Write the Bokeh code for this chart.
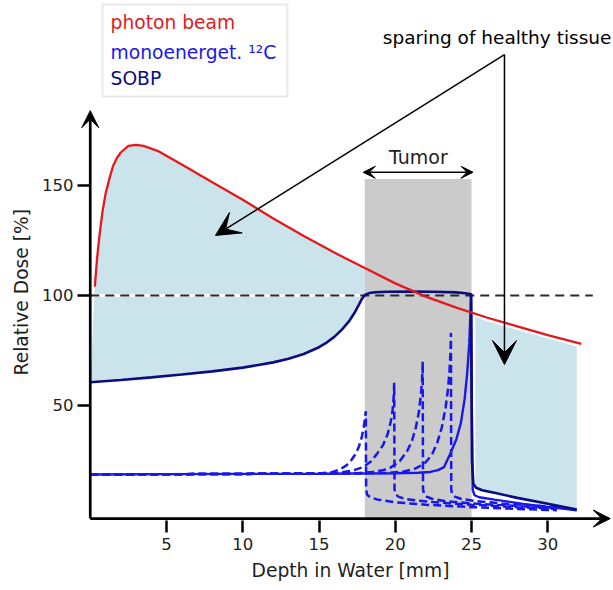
import math
from bokeh.plotting import figure
from bokeh.models import Range1d, FixedTicker, Label, Arrow, VeeHead, BoxAnnotation, Title
from bokeh.embed import file_html
from bokeh.resources import INLINE

# ---------------- data ----------------
photon_x = [0.3, 0.45, 0.6, 0.8, 1.0, 1.25, 1.5, 1.75, 2.0, 2.5, 3.0, 3.5, 4.5, 6.0, 8.0,
            10.0, 12.0, 14.0, 16.0, 18.0, 20.0, 22.0, 24.0, 26.0, 28.0, 30.0, 32.2]
photon_y = [104, 117, 127, 138, 146, 153, 159, 162.5, 165, 168, 168.5, 168, 165.5, 159.5, 151.5,
            143.5, 135, 127, 119.5, 112.5, 105.5, 99.5, 94.5, 90, 86, 82, 78]

sobp_x = [0, 2, 4, 6, 8, 10, 12, 13, 14, 15, 15.5, 16, 16.5, 17, 17.3, 17.6, 17.8, 18.0,
          18.3, 18.7, 19.5, 21, 22.5, 24, 24.6, 24.97, 25.03, 25.12, 25.3, 25.7, 26.5, 28, 30, 31.9]
sobp_y = [60.6, 61.6, 62.8, 64.1, 65.5, 67.2, 69.6, 71.2, 73.4, 76.5, 78.6, 81.2, 84.5, 88.6,
          91.8, 95.6, 98.3, 100.2, 101.1, 101.5, 101.7, 101.8, 101.7, 101.4, 101.0, 100.6,
          25, 14.5, 12.6, 11.5, 10.3, 8.0, 5.3, 2.7]

mono_x = [0, 5, 10, 15, 20, 21.5, 22.3, 22.8, 23.2, 23.6, 24.0, 24.3, 24.55, 24.72, 24.85,
          24.93, 24.97, 25.02, 25.08, 25.2, 25.5, 26.5, 28.4, 30, 31.9]
mono_y = [18.6, 18.8, 18.9, 19.0, 19.2, 19.4, 19.8, 20.6, 22.0, 28.0, 34.5, 42.0, 53.0, 65.0,
          78.0, 92.0, 101.0, 50, 11.5, 9.2, 8.3, 7.2, 5.3, 3.9, 2.4]

peak1_x = [0, 10, 15, 15.8, 16.4, 16.8, 17.1, 17.4, 17.6, 17.8, 17.93, 18.02, 18.07, 18.09,
           18.15, 18.35, 18.8, 20.0, 22.0, 25.0, 28.0, 30.6]
peak1_y = [18.6, 18.9, 19.1, 19.6, 21.0, 22.8, 25.0, 28.0, 31.0, 35.5, 40.0, 44.5, 47.4, 12.0,
           9.5, 8.3, 7.3, 6.0, 4.9, 3.8, 3.0, 2.4]

peak2_x = [0, 10, 15.5, 16.5, 17.3, 17.9, 18.4, 18.8, 19.2, 19.5, 19.7, 19.82, 19.9, 19.93,
           19.95, 20.0, 20.2, 20.6, 21.5, 23.0, 25.0, 28.0, 30.6]
peak2_y = [18.6, 18.9, 19.1, 19.6, 20.6, 22.0, 24.5, 28.0, 32.0, 37.0, 42.5, 47.5, 54.0, 60.3,
           12.0, 9.8, 8.6, 7.6, 6.7, 5.8, 4.9, 3.8, 3.0]

peak3_x = [0, 10, 17.5, 18.5, 19.2, 19.7, 20.3, 20.8, 21.1, 21.35, 21.55, 21.68, 21.76, 21.8,
           21.82, 21.88, 22.05, 22.4, 23.2, 25.0, 28.0, 30.6]
peak3_y = [18.6, 18.9, 19.2, 19.8, 20.6, 21.8, 24.8, 29.5, 34.0, 40.0, 47.0, 55.0, 62.0, 70.0,
           12.0, 9.8, 8.6, 7.6, 6.6, 5.5, 4.3, 3.4]

peak4_x = [0, 10, 19.5, 20.5, 21.3, 21.9, 22.4, 22.75, 23.05, 23.3, 23.45, 23.55, 23.62, 23.65,
           23.67, 23.72, 23.9, 24.3, 25.2, 27.0, 30.6]
peak4_y = [18.6, 18.9, 19.3, 19.9, 21.3, 23.5, 27.5, 33.0, 40.0, 49.0, 57.0, 65.0, 74.0, 83.0,
           12.0, 9.8, 8.6, 7.6, 6.6, 5.5, 3.8]

# spared healthy tissue behind the tumour (shaded region)
rear_x = [25.25, 26.0, 28.0, 30.0, 31.9]
rear_top = [90.3, 88.3, 84.3, 80.4, 76.8]
rear_bottom = [12.3, 10.3, 8.0, 5.3, 2.7]

tumor_start, tumor_end, tumor_top = 18.0, 25.0, 153
reference_dose = 100

x_ticks = [5, 10, 15, 20, 25, 30]
y_ticks = [50, 100, 150]

legend_labels = ["photon beam", "monoenerget. \u00b9\u00b2C", "SOBP"]

# ---------------- style ----------------
RED = "#e3191d"
BLUE = "#1818ec"
NAVY = "#0c0c82"
FILL = "#cbe4eb"
GRAY = "#cbcbcb"
FONT = "DejaVu Sans"
TXT = "#1e1e1e"

p = figure(width=613, height=590, output_backend="svg", toolbar_location=None,
           x_range=Range1d(-0.836, 34.31), y_range=Range1d(-7.73, 234.09),
           min_border_left=77, min_border_right=0, min_border_top=0, min_border_bottom=58)
p.grid.visible = False
p.outline_line_color = None
p.background_fill_color = "white"
p.border_fill_color = "white"

for ax in (p.xaxis[0], p.yaxis[0]):
    ax.axis_line_color = None
    ax.major_tick_line_color = "black"
    ax.major_tick_line_width = 2.5
    ax.major_tick_in = 12
    ax.major_tick_out = 0
    ax.minor_tick_line_color = None
    ax.major_label_text_font = FONT
    ax.major_label_text_font_size = "16.5px"
    ax.major_label_text_color = TXT
p.xaxis[0].ticker = FixedTicker(ticks=x_ticks)
p.yaxis[0].ticker = FixedTicker(ticks=y_ticks)
p.xaxis[0].major_label_standoff = 5
p.yaxis[0].major_label_standoff = 4

# axis titles
p.add_layout(Title(text="Relative Dose [%]", align="left", offset=157, vertical_align="top",
                   text_font=FONT, text_font_size="18.7px", text_font_style="normal",
                   text_color=TXT, standoff=11), "left")
p.add_layout(Title(text="Depth in Water [mm]", align="left", offset=174, vertical_align="top",
                   text_font=FONT, text_font_size="18.7px", text_font_style="normal",
                   text_color=TXT, standoff=14), "below")

# shaded region in front of the tumour: between photon curve and SOBP
front_x = [x for x in photon_x if x <= tumor_start] + [x for x in sobp_x if x <= tumor_start][::-1]
front_y = [y for x, y in zip(photon_x, photon_y) if x <= tumor_start] + \
          [y for x, y in zip(sobp_x, sobp_y) if x <= tumor_start][::-1]
p.patch(front_x, front_y, fill_color=FILL, line_color=None)
p.varea(x=rear_x, y1=rear_bottom, y2=rear_top, fill_color=FILL)

# tumour region
p.quad(left=[tumor_start], right=[tumor_end], bottom=[-1.5], top=[tumor_top],
       fill_color=GRAY, line_color=None)

# reference dose line
p.line([0, tumor_start], [reference_dose, reference_dose], line_color="white", line_width=2.5)
p.line([0, 32.95], [reference_dose, reference_dose], line_color="#2a2a2a", line_width=1.8,
       line_dash="9 6")

for px_, py_ in ((peak1_x, peak1_y), (peak2_x, peak2_y), (peak3_x, peak3_y), (peak4_x, peak4_y)):
    p.line(px_, py_, line_color=BLUE, line_width=2.5, line_dash="8 4")

p.line(mono_x, mono_y, line_color=BLUE, line_width=2.4)
p.line(sobp_x, sobp_y, line_color=NAVY, line_width=2.6)
p.line(photon_x, photon_y, line_color=RED, line_width=2.3)

# axes with arrow heads
p.add_layout(Arrow(x_start=0, y_start=-1.4, x_end=34.1, y_end=-1.4, line_width=2.7,
                   line_color="black",
                   end=VeeHead(size=17, fill_color="black", line_color="black", line_width=1)))
p.add_layout(Arrow(x_start=0, y_start=-1.4, x_end=0, y_end=184, line_width=2.7,
                   line_color="black",
                   end=VeeHead(size=17, fill_color="black", line_color="black", line_width=1)))

# tumour width arrow and label
p.add_layout(Arrow(x_start=17.9, y_start=156, x_end=25.1, y_end=156, line_width=1.5,
                   line_color="black",
                   start=VeeHead(size=12, fill_color="black", line_color="black", line_width=1),
                   end=VeeHead(size=12, fill_color="black", line_color="black", line_width=1)))
p.add_layout(Label(x=21.52, y=163.1, text="Tumor", text_align="center",
                   text_baseline="alphabetic", text_font=FONT, text_font_size="19px",
                   text_color=TXT))

# sparing annotation
p.add_layout(Label(x=19.18, y=217.2, text="sparing of healthy tissue", text_align="left",
                   text_baseline="alphabetic", text_font=FONT, text_font_size="18.5px",
                   text_color="black"))
for tx, ty in ((8.21, 127.3), (27.16, 68.6)):
    p.add_layout(Arrow(x_start=27.16, y_start=209.5, x_end=tx, y_end=ty, line_width=1.5,
                       line_color="black",
                       end=VeeHead(size=24, fill_color="black", line_color="black", line_width=1)))

# legend box
p.add_layout(BoxAnnotation(left=0.80, right=12.93, top=232.3, bottom=190.5,
                           fill_color="white", fill_alpha=1, line_color="#b5b5b5",
                           line_width=2))
for lab, col, yy in zip(legend_labels, [RED, BLUE, NAVY], [224.3, 210.4, 198.6]):
    p.add_layout(Label(x=1.33, y=yy, text=lab, text_align="left", text_baseline="alphabetic",
                       text_font=FONT, text_font_size="18.7px", text_color=col))

open("out.html", "w").write(file_html(p, INLINE))
